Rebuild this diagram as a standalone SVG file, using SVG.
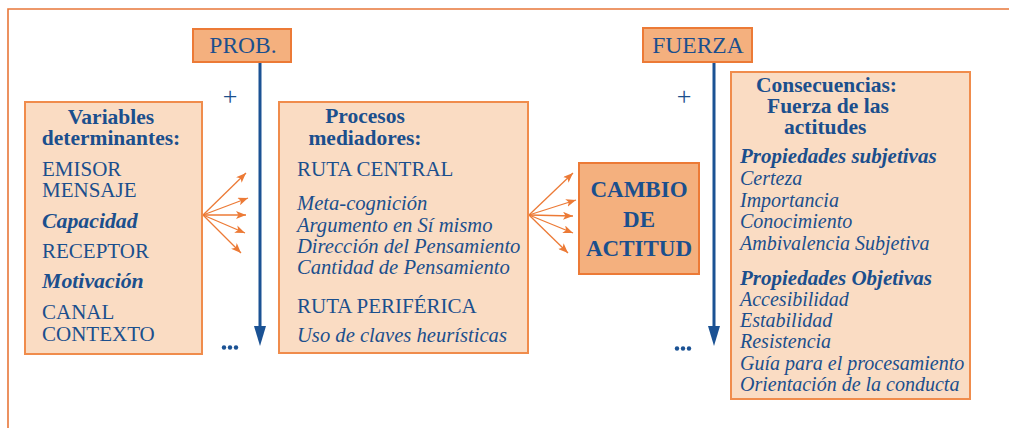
<svg xmlns="http://www.w3.org/2000/svg" width="1009" height="428" viewBox="0 0 1009 428">
<style>
text{font-family:'Liberation Serif','Times New Roman',serif;fill:#1b4f8d}
.r{font-size:21px}
.h{font-size:21.5px;font-weight:bold}
.i{font-size:20px;font-style:italic}
.im{font-size:20.6px;font-style:italic}
.bi{font-size:21px;font-style:italic;font-weight:bold}
.bil{font-size:21.8px;font-style:italic;font-weight:bold}
.top{font-size:23.5px}
.big{font-size:23px;font-weight:bold}
.plus{font-size:26px}
.lbox{fill:#fadcc3;stroke:#f08c4c;stroke-width:2}
.dbox{fill:#f4b07e;stroke:#ec7a36;stroke-width:2}
.fan{stroke:#ec7a36;stroke-width:1.3;fill:none;marker-end:url(#oa)}
.vl{stroke:#1b5294;stroke-width:3;fill:none;marker-end:url(#ba)}
</style>
<defs>
<marker id="oa" viewBox="0 0 10 8" refX="10" refY="4" markerWidth="10" markerHeight="8" markerUnits="userSpaceOnUse" orient="auto"><path d="M0,0 L10,4 L0,8 L2.5,4 Z" fill="#ec7a36"/></marker>
<marker id="ba" viewBox="0 0 20 12" refX="2" refY="6" markerWidth="20" markerHeight="12" markerUnits="userSpaceOnUse" orient="auto"><path d="M0,0 L20,6 L0,12 Z" fill="#1b5294"/></marker>
</defs>
<rect width="1009" height="428" fill="#fff"/>
<path d="M1009,9 H8 V428" fill="none" stroke="#e8773a" stroke-width="1.6"/>

<g id="connectors">
<line class="vl" x1="260" y1="62" x2="260" y2="328"/>
<line class="vl" x1="714" y1="62" x2="714" y2="328"/>
<line class="fan" x1="203" y1="215" x2="246" y2="173"/>
<line class="fan" x1="203" y1="215" x2="248" y2="198"/>
<line class="fan" x1="203" y1="215" x2="246" y2="215"/>
<line class="fan" x1="203" y1="215" x2="245" y2="233"/>
<line class="fan" x1="203" y1="215" x2="241" y2="253"/>
<line class="fan" x1="529" y1="215" x2="573" y2="173"/>
<line class="fan" x1="529" y1="215" x2="576" y2="200"/>
<line class="fan" x1="529" y1="215" x2="573" y2="216"/>
<line class="fan" x1="529" y1="215" x2="573" y2="233"/>
<line class="fan" x1="529" y1="215" x2="568" y2="253"/>
</g>

<g id="plus-dots">
<text class="plus" x="230" y="105" text-anchor="middle">+</text>
<text class="plus" x="684" y="105" text-anchor="middle">+</text>
<g fill="#1b5294">
<circle cx="224" cy="347.5" r="2.2"/><circle cx="230" cy="347.5" r="2.2"/><circle cx="236" cy="347.5" r="2.2"/>
<circle cx="677" cy="348.5" r="2.2"/><circle cx="683" cy="348.5" r="2.2"/><circle cx="689" cy="348.5" r="2.2"/>
</g>
</g>

<g id="prob">
<rect class="dbox" x="193" y="29" width="98" height="33"/>
<text class="top" x="243" y="53" text-anchor="middle">PROB.</text>
</g>

<g id="fuerza">
<rect class="dbox" x="643" y="28" width="109" height="34"/>
<text class="top" x="698" y="53" text-anchor="middle">FUERZA</text>
</g>

<g id="variables">
<rect class="lbox" x="25" y="102" width="177" height="252"/>
<text class="h" x="111" y="124" text-anchor="middle">Variables</text>
<text class="h" x="111" y="145" text-anchor="middle">determinantes:</text>
<text class="r" x="42" y="176">EMISOR</text>
<text class="r" x="42" y="197">MENSAJE</text>
<text class="bil" x="42" y="228">Capacidad</text>
<text class="r" x="42" y="258">RECEPTOR</text>
<text class="bil" x="42" y="288">Motivación</text>
<text class="r" x="42" y="319">CANAL</text>
<text class="r" x="42" y="341">CONTEXTO</text>
</g>

<g id="procesos">
<rect class="lbox" x="279" y="102" width="249" height="251"/>
<text class="h" x="365" y="123" text-anchor="middle">Procesos</text>
<text class="h" x="365" y="145" text-anchor="middle">mediadores:</text>
<text class="r" x="297" y="176">RUTA CENTRAL</text>
<text class="im" x="297" y="210">Meta-cognición</text>
<text class="im" x="297" y="232">Argumento en Sí mismo</text>
<text class="im" x="297" y="253">Dirección del Pensamiento</text>
<text class="im" x="297" y="274">Cantidad de Pensamiento</text>
<text class="r" x="297" y="313">RUTA PERIFÉRICA</text>
<text class="im" x="297" y="342">Uso de claves heurísticas</text>
</g>

<g id="cambio">
<rect class="dbox" x="579" y="163" width="120" height="111"/>
<text class="big" x="639" y="197" text-anchor="middle">CAMBIO</text>
<text class="big" x="639" y="227" text-anchor="middle">DE</text>
<text class="big" x="639" y="256" text-anchor="middle">ACTITUD</text>
</g>

<g id="consecuencias">
<rect class="lbox" x="731" y="72" width="239" height="327"/>
<text class="h" x="756" y="92">Consecuencias:</text>
<text class="h" x="767" y="113">Fuerza de las</text>
<text class="h" x="784" y="134">actitudes</text>
<text class="bi" x="740" y="163">Propiedades subjetivas</text>
<text class="i" x="740" y="185">Certeza</text>
<text class="i" x="740" y="207">Importancia</text>
<text class="i" x="740" y="228">Conocimiento</text>
<text class="i" x="740" y="250">Ambivalencia Subjetiva</text>
<text class="bi" x="740" y="285">Propiedades Objetivas</text>
<text class="i" x="740" y="306">Accesibilidad</text>
<text class="i" x="740" y="327">Estabilidad</text>
<text class="i" x="740" y="348">Resistencia</text>
<text class="i" x="740" y="370">Guía para el procesamiento</text>
<text class="i" x="740" y="391">Orientación de la conducta</text>
</g>
</svg>
